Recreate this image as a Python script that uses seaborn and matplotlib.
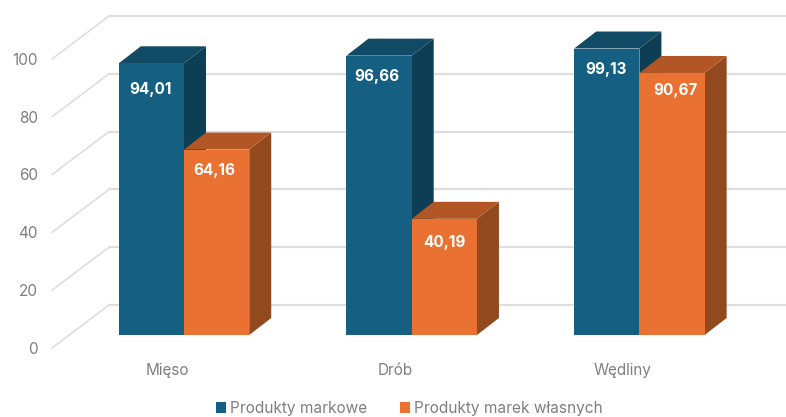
import matplotlib
matplotlib.use("Agg")
import matplotlib.pyplot as plt
from matplotlib.patches import Polygon
from matplotlib.transforms import ScaledTranslation
import pandas as pd
import seaborn as sns

categories = ["Mięso", "Drób", "Wędliny"]
branded = [94.01, 96.66, 99.13]
private_label = [64.16, 40.19, 90.67]
series_names = ["Produkty markowe", "Produkty marek własnych"]
y_ticks = [0, 20, 40, 60, 80, 100]

FRONT = {series_names[0]: "#156082", series_names[1]: "#E97132"}
TOP = {series_names[0]: "#104A64", series_names[1]: "#B25625"}
SIDE = {series_names[0]: "#0D3E54", series_names[1]: "#92491E"}
GRID = "#DEDEDE"
TEXT = "#7F7F7F"

sns.set_theme(style="white")
plt.rcParams["font.family"] = ["Inter", "DejaVu Sans"]

W, H = 786, 417
fig = plt.figure(figsize=(W / 100, H / 100), dpi=100)
LEFT, RIGHT, TOP_PX, BOTTOM = 45, 786, 4, 358
ax = fig.add_axes([LEFT / W, 1 - BOTTOM / H, (RIGHT - LEFT) / W, (BOTTOM - TOP_PX) / H])

# Scale: one category step and one value unit expressed in pixels
STEP_PX, UNIT_PX = 227.7, 2.89
X0_PX, Y0_PX = 184, 335

df = pd.DataFrame({
    "kategoria": categories * 2,
    "wartosc": branded + private_label,
    "seria": [series_names[0]] * 3 + [series_names[1]] * 3,
})
sns.barplot(data=df, x="kategoria", y="wartosc", hue="seria", palette=FRONT,
            width=0.573, gap=0, saturation=1, ax=ax, zorder=6, linewidth=0)
ax.set_xlim((LEFT - X0_PX) / STEP_PX, (RIGHT - X0_PX) / STEP_PX)
ax.set_ylim((Y0_PX - BOTTOM) / UNIT_PX, (Y0_PX - TOP_PX) / UNIT_PX)


def dx(px):
    return px / STEP_PX


def dy(px):
    return px / UNIT_PX


# Receding wall: gridlines on the back plane joined to the outer edge by diagonals
for t in y_ticks:
    back_y = t + dy(30)
    ax.plot([dx(109 - X0_PX), ax.get_xlim()[1]], [back_y, back_y], color=GRID, lw=1.6, zorder=1)
    ax.plot([dx(52 - X0_PX), dx(109 - X0_PX)], [t - dy(13), back_y], color=GRID, lw=1.2, zorder=1)

# Extruded depth of each bar, taken from the bar rectangles themselves
DEPTH_X, DEPTH_Y = dx(22), dy(17)
for layer, (name, container) in enumerate(zip(series_names, ax.containers)):
    for bar in container:
        x0, x1 = bar.get_x(), bar.get_x() + bar.get_width()
        h = bar.get_height()
        ax.add_patch(Polygon([(x1, 0), (x1 + DEPTH_X, DEPTH_Y), (x1 + DEPTH_X, h + DEPTH_Y), (x1, h)],
                             facecolor=SIDE[name], edgecolor="none", zorder=2 + layer))
        ax.add_patch(Polygon([(x0, h), (x0 + DEPTH_X, h + DEPTH_Y), (x1 + DEPTH_X, h + DEPTH_Y), (x1, h)],
                             facecolor=TOP[name], edgecolor="none", zorder=2 + layer))

# Value labels with decimal commas; nudges are (right, down) in pixels from the bar's top centre
nudges = [[(-1, 26), (-2, 21), (-1, 21)], [(-2, 21), (0, 24), (3, 18)]]
for container, series_nudges in zip(ax.containers, nudges):
    for bar, (nx, ny) in zip(container, series_nudges):
        h = bar.get_height()
        ax.text(bar.get_x() + bar.get_width() / 2 + dx(nx), h - dy(ny), f"{h:.2f}".replace(".", ","),
                ha="center", va="center", color="white", fontsize=11, fontweight="bold", zorder=8)

ax.set_xlabel("")
ax.set_ylabel("")
ax.set_yticks(y_ticks)
ax.set_xticks(range(len(categories)), categories)
ax.tick_params(axis="both", length=0, labelsize=11, labelcolor=TEXT)
ax.tick_params(axis="y", pad=5)
ax.tick_params(axis="x", pad=3.3)
for lab in ax.get_yticklabels():
    lab.set_transform(lab.get_transform() + ScaledTranslation(0, -0.128, fig.dpi_scale_trans))
for lab in ax.get_xticklabels():
    lab.set_transform(lab.get_transform() + ScaledTranslation(-0.17, 0, fig.dpi_scale_trans))
sns.despine(ax=ax, left=True, bottom=True)

handles, labels = ax.get_legend_handles_labels()
ax.legend(handles, labels, loc="upper left", bbox_to_anchor=(216 / W, 1 - 401 / H),
          bbox_transform=fig.transFigure, ncol=2, frameon=False, fontsize=11.1,
          handlelength=0.65, handleheight=0.65, handletextpad=0.28, columnspacing=2.08,
          borderpad=0, borderaxespad=0, labelcolor=TEXT)

fig.savefig("out.png", dpi=100)
